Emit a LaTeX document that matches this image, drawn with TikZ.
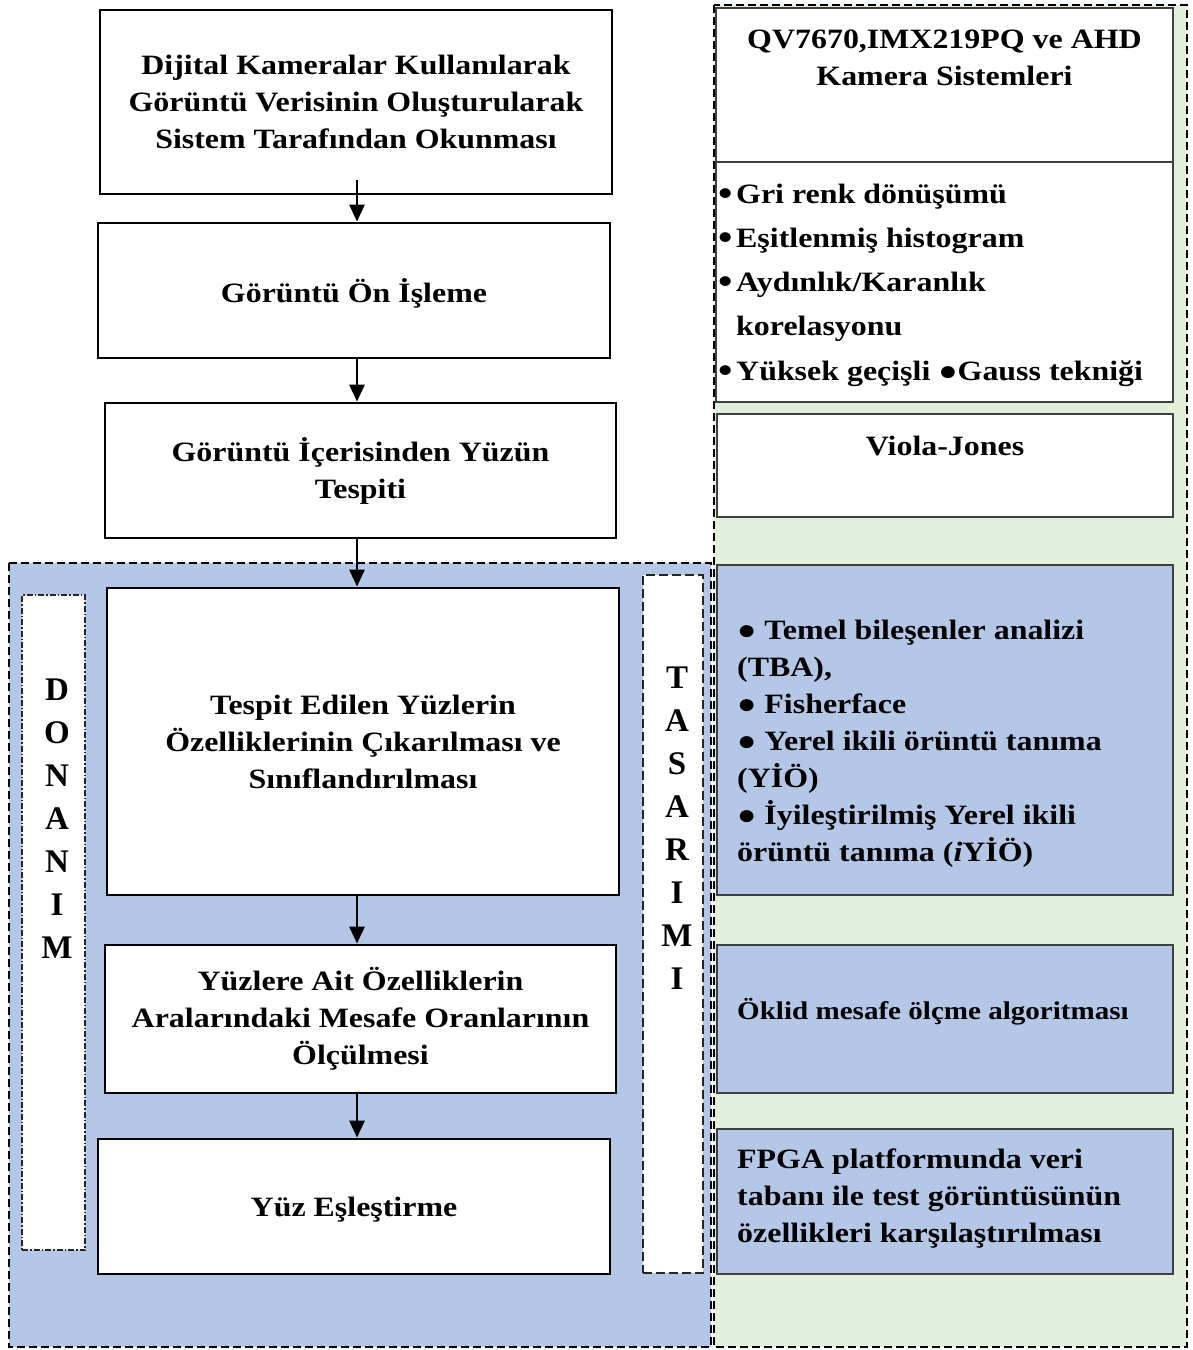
\documentclass[tikz,border=0pt]{standalone}
\usepackage{fontspec}
\setmainfont{Liberation Serif}[FakeStretch=1.14]
\newfontfamily\plainserif{Liberation Serif}
\usetikzlibrary{arrows.meta}
\definecolor{lblue}{HTML}{B4C7E7}
\definecolor{lgreen}{HTML}{E2EFDA}
\newcommand\mfs{\fontsize{28}{37}\selectfont\bfseries}
\newcommand\lfs{\fontsize{28}{44.3}\selectfont\bfseries}
\newcommand\ofs{\fontsize{25.5}{37}\selectfont\bfseries}
\newcommand\vfs{\plainserif\fontsize{33}{43}\selectfont\bfseries}
\newcommand\sbul{\makebox[18pt][l]{\raisebox{-2pt}{\fontsize{36}{0}\selectfont •}}}
\newcommand\bbul{●}
\newcommand\shiftdown[1]{\raisebox{-3pt}[\height][\depth]{#1}}
\begin{document}
\begin{tikzpicture}[x=1pt,y=-1pt,
  mainbox/.style={draw=black, line width=2.8pt, fill=white, inner sep=0pt, font=\mfs, align=center},
  sidebox/.style={draw=black!75, line width=1.5pt, inner sep=0pt},
  region/.style={line width=2.4pt, dash pattern=on 8pt off 4pt},
  strip/.style={draw=black!85, fill=white, line width=1.1pt, inner sep=0pt},
  txt/.style={inner sep=0pt, align=left, font=\mfs},
  arr/.style={line width=2.8pt, -{Triangle[length=17pt,width=15pt]}}]
\useasboundingbox (0,0) rectangle (1192,1350);
% regions
\draw[region, fill=lgreen] (714,5) rectangle (1187,1347);
\draw[region, fill=lblue] (9,563) rectangle (711,1347);
% strips
\node[strip, dash pattern=on 6pt off 2pt on 1.5pt off 2pt, minimum width=63pt, minimum height=655pt] (sd) at (53.5,922.5) {};
\node[strip, dash pattern=on 9pt off 4pt, minimum width=60pt, minimum height=698pt] (st) at (673,924) {};
\node[inner sep=0pt, align=center, font=\vfs] (donanim) at (57,819) {D\\O\\N\\A\\N\\I\\M};
\node[inner sep=0pt, align=center, font=\vfs] (tasarimi) at (677,828) {T\\A\\S\\A\\R\\I\\M\\I};
% main flow
\node[mainbox, minimum width=512pt, minimum height=184pt] (b1) at (356,102) {Dijital Kameralar Kullanılarak\\Görüntü Verisinin Oluşturularak\\Sistem Tarafından Okunması};
\node[mainbox, minimum width=512pt, minimum height=135pt] (b2) at (354,290.5) {\shiftdown{Görüntü Ön İşleme}};
\node[mainbox, minimum width=511pt, minimum height=135pt] (b3) at (360.5,470.5) {Görüntü İçerisinden Yüzün\\Tespiti};
\node[mainbox, minimum width=512pt, minimum height=307pt] (b4) at (363,741.5) {Tespit Edilen Yüzlerin\\Özelliklerinin Çıkarılması ve\\Sınıflandırılması};
\node[mainbox, minimum width=511pt, minimum height=148pt] (b5) at (360.5,1019) {Yüzlere Ait Özelliklerin\\Aralarındaki Mesafe Oranlarının\\Ölçülmesi};
\node[mainbox, minimum width=512pt, minimum height=135pt] (b6) at (354,1206.5) {\shiftdown{Yüz Eşleştirme}};
\coordinate (ax) at (357,0);
\draw[arr] ([yshift=15pt]b1.south -| ax) -- (b2.north -| ax);
\draw[arr] ([yshift=2pt]b2.south -| ax) -- (b3.north -| ax);
\draw[arr] ([yshift=2pt]b3.south -| ax) -- (b4.north -| ax);
\draw[arr] ([yshift=2pt]b4.south -| ax) -- (b5.north -| ax);
\draw[arr] ([yshift=2pt]b5.south -| ax) -- (b6.north -| ax);
% right column
\node[sidebox, fill=white, minimum width=457pt, minimum height=394pt] (r1) at (944.5,205) {};
\coordinate (dv) at (0,162);
\draw[draw=black!75, line width=1.5pt] (r1.west |- dv) -- (r1.east |- dv);
\node[txt, align=center] (r1t) at (944.5,58) {QV7670,IMX219PQ ve AHD\\Kamera Sistemleri};
\node[txt, font=\lfs, anchor=west] (r1l) at (718,285) {\sbul Gri renk dönüşümü\\\sbul Eşitlenmiş histogram\\\sbul Aydınlık/Karanlık\\\hspace*{18pt}korelasyonu\\\sbul Yüksek geçişli \bbul Gauss tekniği};
\node[sidebox, fill=white, minimum width=456pt, minimum height=103pt] (r2) at (945,465.5) {};
\node[txt] (vj) at (945,446) {Viola-Jones};
\node[sidebox, fill=lblue, minimum width=456pt, minimum height=330pt] (r3) at (945,730) {};
\node[txt, anchor=west] (r3l) at (737,744) {\bbul{} Temel bileşenler analizi\\(TBA),\\\bbul{} Fisherface\\\bbul{} Yerel ikili örüntü tanıma\\(YİÖ)\\\bbul{} İyileştirilmiş Yerel ikili\\örüntü tanıma (\textit{i}YİÖ)};
\node[sidebox, fill=lblue, minimum width=456pt, minimum height=148pt] (r4) at (945,1019) {};
\node[txt, font=\ofs, anchor=west] (r4l) at (737,1012) {Öklid mesafe ölçme algoritması};
\node[sidebox, fill=lblue, minimum width=456pt, minimum height=145pt] (r5) at (945,1201.5) {};
\node[txt, anchor=west] (r5l) at (737,1199) {FPGA platformunda veri\\tabanı ile test görüntüsünün\\özellikleri karşılaştırılması};
\end{tikzpicture}
\end{document}
